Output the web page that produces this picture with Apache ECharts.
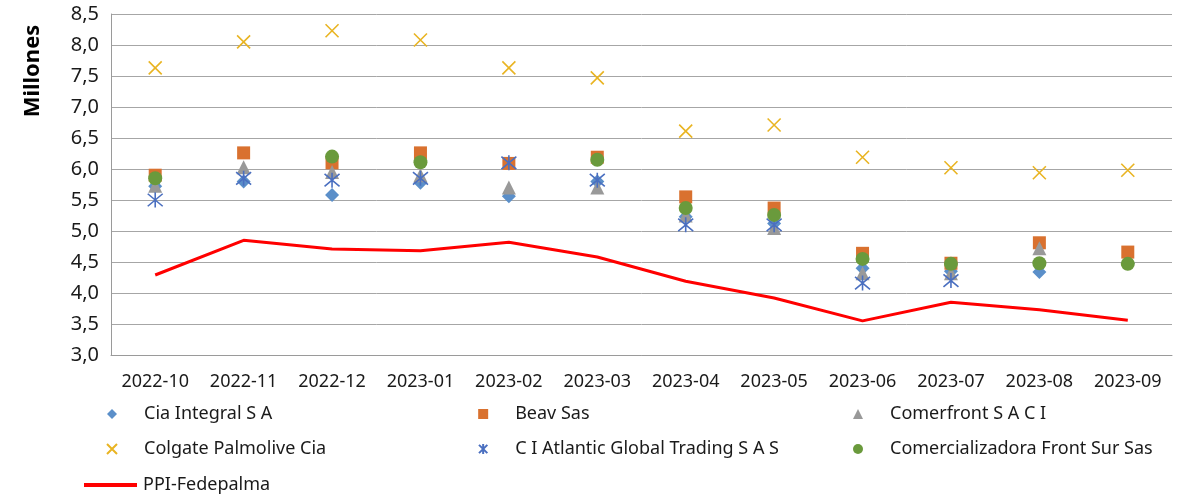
<!DOCTYPE html>
<html>
<head>
<meta charset="utf-8">
<script src="https://cdn.jsdelivr.net/npm/echarts@6/dist/echarts.min.js"></script>
<style>
  html, body { margin: 0; padding: 0; background: #fff; }
  #chart { width: 1178px; height: 496px; }
</style>
</head>
<body>
<div id="chart"></div>
<script>
const months = ['2022-10', '2022-11', '2022-12', '2023-01', '2023-02', '2023-03',
  '2023-04', '2023-05', '2023-06', '2023-07', '2023-08', '2023-09']

// valores en millones
const ciaIntegral = [5.72, 5.80, 5.58, 5.78, 5.56, 5.80, 5.23, 5.12, 4.40, 4.35, 4.34, 4.48]
const beavSas = [5.90, 6.26, 6.10, 6.26, 6.09, 6.19, 5.55, 5.37, 4.64, 4.48, 4.81, 4.66]
const comerfront = [5.73, 6.03, 5.95, 5.90, 5.70, 5.70, 5.25, 5.05, 4.32, 4.32, 4.72, null]
const colgate = [7.63, 8.05, 8.23, 8.08, 7.63, 7.47, 6.61, 6.71, 6.19, 6.02, 5.94, 5.98]
const ciAtlantic = [5.50, 5.85, 5.82, 5.85, 6.10, 5.82, 5.10, 5.10, 4.16, 4.20, null, null]
const frontSur = [5.85, null, 6.20, 6.11, null, 6.15, 5.37, 5.26, 4.55, 4.47, 4.48, 4.47]
const ppiFedepalma = [4.29, 4.85, 4.71, 4.68, 4.82, 4.58, 4.19, 3.92, 3.55, 3.85, 3.73, 3.56]

const FONT = "'Noto Sans', 'Open Sans', sans-serif"
const xPath = 'path://M0,0L10,10M10,0L0,10'
const starPath = 'path://M0,0L10,10M10,0L0,10M5,-1L5,11'

const chart = echarts.init(document.getElementById('chart'))

function scatter(name, data, symbol, size, color, stroke) {
  const s = {
    name,
    type: 'scatter',
    data,
    symbol,
    symbolSize: size,
    itemStyle: { color, opacity: 1 },
    emphasis: { disabled: true },
  }
  if (stroke) {
    s.itemStyle = { color: 'transparent', borderColor: color, borderWidth: 1.6, opacity: 1 }
  }
  return s
}

const legendText = { fontFamily: FONT, fontSize: 18, lineHeight: 18, color: '#1a1a1a', padding: [0, 0, 0, 22] }

function legendCol(items, left) {
  return {
    data: items,
    orient: 'vertical', left, top: 405, itemGap: 17, padding: 0,
    itemWidth: 10, itemHeight: 10, textStyle: legendText,
  }
}

chart.setOption({
  animation: false,
  backgroundColor: '#fff',
  grid: { left: 111, right: 6, top: 14, bottom: 141 },
  graphic: [{
    type: 'text',
    x: 33,
    y: 71,
    rotation: Math.PI / 2,
    style: {
      text: 'Millones',
      fontFamily: FONT,
      fontSize: 22,
      fontWeight: 'bold',
      fill: '#000',
      textAlign: 'center',
      textVerticalAlign: 'middle',
    },
  }],
  legend: [
    legendCol(['Cia Integral S A', 'Colgate Palmolive Cia'], 106),
    legendCol(['Beav Sas', 'C I Atlantic Global Trading S A S'], 478),
    legendCol(['Comerfront S A C I', 'Comercializadora Front Sur Sas'], 853),
    {
      data: [{ name: 'PPI-Fedepalma', icon: 'rect' }],
      left: 84, top: 476, padding: 0,
      itemWidth: 53, itemHeight: 4,
      textStyle: { fontFamily: FONT, fontSize: 18, lineHeight: 18, color: '#1a1a1a', padding: [0, 0, 0, 1] },
    },
  ],
  xAxis: {
    type: 'category',
    data: months,
    boundaryGap: true,
    axisLine: { lineStyle: { color: '#9a9a9a', width: 1 } },
    axisTick: { show: false },
    axisLabel: { fontFamily: FONT, fontSize: 18, color: '#1a1a1a', margin: 18 },
  },
  yAxis: {
    type: 'value',
    min: 3,
    max: 8.5,
    interval: 0.5,
    axisLine: { show: true, lineStyle: { color: '#9a9a9a', width: 1 } },
    axisTick: { show: false },
    splitLine: { lineStyle: { color: '#a6a6a6', width: 1 } },
    axisLabel: {
      fontFamily: FONT,
      fontSize: 20,
      color: '#1a1a1a',
      margin: 12,
      formatter: (v) => v.toFixed(1).replace('.', ','),
    },
  },
  series: [
    scatter('Cia Integral S A', ciaIntegral, 'diamond', 14, '#5b8fc9'),
    scatter('Beav Sas', beavSas, 'rect', 13, '#d9712f'),
    scatter('Comerfront S A C I', comerfront, 'triangle', 14, '#999999'),
    scatter('Colgate Palmolive Cia', colgate, xPath, 13, '#e9b422', true),
    scatter('C I Atlantic Global Trading S A S', ciAtlantic, starPath, 15, '#4a6fc0', true),
    scatter('Comercializadora Front Sur Sas', frontSur, 'circle', 14, '#6a9a3c'),
    {
      name: 'PPI-Fedepalma',
      type: 'line',
      data: ppiFedepalma,
      symbol: 'none',
      lineStyle: { color: '#ff0000', width: 3 },
      itemStyle: { color: '#ff0000' },
      emphasis: { disabled: true },
      z: 1,
    },
  ],
})
</script>
</body>
</html>
